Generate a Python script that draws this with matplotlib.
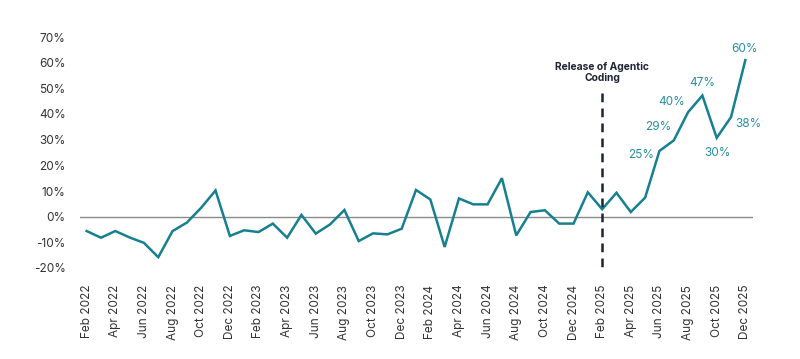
import matplotlib
matplotlib.use("Agg")
import matplotlib.pyplot as plt

months = ["Feb 2022", "Mar 2022", "Apr 2022", "May 2022", "Jun 2022", "Jul 2022", "Aug 2022", "Sep 2022",
          "Oct 2022", "Nov 2022", "Dec 2022", "Jan 2023", "Feb 2023", "Mar 2023", "Apr 2023", "May 2023",
          "Jun 2023", "Jul 2023", "Aug 2023", "Sep 2023", "Oct 2023", "Nov 2023", "Dec 2023", "Jan 2024",
          "Feb 2024", "Mar 2024", "Apr 2024", "May 2024", "Jun 2024", "Jul 2024", "Aug 2024", "Sep 2024",
          "Oct 2024", "Nov 2024", "Dec 2024", "Jan 2025", "Feb 2025", "Mar 2025", "Apr 2025", "May 2025",
          "Jun 2025", "Jul 2025", "Aug 2025", "Sep 2025", "Oct 2025", "Nov 2025", "Dec 2025"]
values = [-5.6, -8.2, -5.6, -8.1, -10.2, -15.8, -5.6, -2.3, 3.5, 10.2, -7.5,
          -5.3, -6.0, -2.7, -8.2, 0.7, -6.6, -3.0, 2.6, -9.5, -6.5, -6.9, -4.7,
          10.4, 6.7, -11.8, 7.1, 4.8, 4.8, 15.0, -7.3, 1.8, 2.5, -2.7, -2.7,
          9.5, 2.9, 9.3, 1.8, 7.4, 25.6, 29.7, 40.7, 47.2, 30.7, 38.8, 61.0]
label_months = ["Jun 2025", "Jul 2025", "Aug 2025", "Sep 2025", "Oct 2025", "Nov 2025", "Dec 2025"]
label_texts = ["25%", "29%", "40%", "47%", "30%", "38%", "60%"]
yticks = [-20, -10, 0, 10, 20, 30, 40, 50, 60, 70]
event_month = "Feb 2025"
event_text = "Release of Agentic\nCoding"

LINE = "#17808F"
LABEL = "#2A8E9E"
DARK = "#1E2433"

plt.rcParams["font.family"] = ["Inter", "DejaVu Sans"]

fig = plt.figure(figsize=(8, 3.59), dpi=100)
ax = fig.add_axes([79.5 / 800, 1 - 268 / 359, 673 / 800, (268 - 37) / 359])

x = list(range(len(months)))
ax.plot(x, values, color=LINE, lw=1.8, solid_joinstyle="miter", zorder=3)
ax.axhline(0, color="#8a8a8a", lw=1.0, zorder=1)

ax.set_xlim(-0.5, len(months) - 0.5)
ax.set_ylim(-20, 70)
ax.set_yticks(yticks)
ax.set_yticklabels([f"{t}%" for t in yticks])
ax.set_xticks(x[::2])
ax.set_xticklabels(months[::2], rotation=90)
ax.tick_params(axis="y", length=0, pad=10, labelsize=8.5, labelcolor="#333333")
ax.tick_params(axis="x", length=0, pad=12, labelsize=8.5, labelcolor="#333333")
for s in ax.spines.values():
    s.set_visible(False)

# event line
ex = months.index(event_month)
ax.plot([ex, ex], [48.2, -21.5], color=DARK, lw=1.8, ls=(0, (3.5, 2.5)), clip_on=False, zorder=4)
ax.annotate(event_text, (ex, 48.2), xytext=(0, 7), textcoords="offset points",
            ha="center", va="bottom", fontsize=7.4, fontweight="bold",
            color=DARK, linespacing=1.2)

# value labels (offsets in points, label centre relative to point)
offsets = {"25%": (-13, -3), "29%": (-11, 10), "40%": (-11.5, 7.6), "47%": (0, 8.9),
           "30%": (0.5, -10.6), "38%": (12.5, -4.8), "60%": (-0.5, 7.9)}
for m, t in zip(label_months, label_texts):
    i = months.index(m)
    dx, dy = offsets[t]
    ax.annotate(t, (i, values[i]), xytext=(dx, dy), textcoords="offset points",
                ha="center", va="center", fontsize=8.5, color=LABEL)

fig.savefig("out.png", dpi=100)
